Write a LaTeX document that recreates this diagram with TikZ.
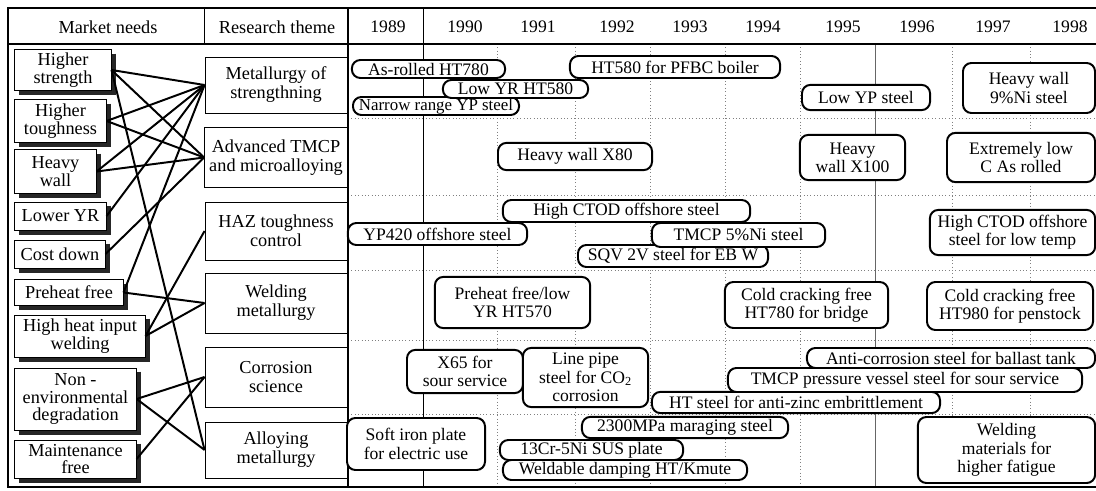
\documentclass[tikz,border=0pt]{standalone}
\usepackage{fontspec}
\setmainfont{Liberation Serif}
\usepackage{tikz}

\begin{document}
\begin{tikzpicture}[x=0.025cm,y=-0.025cm]
\useasboundingbox (0,0) rectangle (1096,491);
%%%%%%%%%%%%%%%%%%%%%%%%%%%%%%%%%%%%%%%%%%%%%%%%%%%%%%%%%%%%%%
%FRAME/BACKGROUND
\tikzstyle{grid}=[dotted,color=black!50,thin]
\tikzstyle{head}=[font=\fontsize{12.5}{13}\selectfont]
%year grid
\draw[grid] (497,44) -- (497,487);
\draw[grid] (575,44) -- (575,487);
\draw[grid] (650,44) -- (650,487);
\draw[grid] (725,44) -- (725,487);
\draw[grid] (800,44) -- (800,487);
\draw[color=black!60] (875,44) -- (875,487);
\draw[grid] (952,44) -- (952,487);
\draw[grid] (1030,44) -- (1030,487);
%theme rows
\draw[grid] (348,118) -- (1096,118);
\draw[grid] (348,195) -- (1096,195);
\draw[grid] (348,270) -- (1096,270);
\draw[grid] (348,340) -- (1096,340);
\draw[grid] (348,414) -- (1096,414);
%table
\draw[line width=0.8pt] (1096,8) -- (8,8) -- (8,487) -- (1096,487);
\draw[line width=0.8pt] (8,44) -- (1096,44);
\draw (204,8) -- (204,44);
\draw[line width=0.8pt] (348,8) -- (348,487);
\draw (423,8) -- (423,487);

%header
\node[head,font=\fontsize{13}{13}\selectfont] (hneeds) at (108,27) {Market needs};
\node[head,font=\fontsize{13}{13}\selectfont] (htheme) at (277,27) {Research theme};
\node[head] (y1989) at (388,27) {1989};
\node[head] (y1990) at (465,27) {1990};
\node[head] (y1991) at (538,27) {1991};
\node[head] (y1992) at (617,27) {1992};
\node[head] (y1993) at (690,27) {1993};
\node[head] (y1994) at (763,27) {1994};
\node[head] (y1995) at (843,27) {1995};
\node[head] (y1996) at (917,27) {1996};
\node[head] (y1997) at (993,27) {1997};
\node[head] (y1998) at (1070,27) {1998};

%%%%%%%%%%%%%%%%%%%%%%%%%%%%%%%%%%%%%%%%%%%%%%%%%%%%%%%%%%%%%%
%boxes
\tikzstyle{need}=[draw,line width=0.7pt,fill=white,align=center,inner sep=1pt,font=\fontsize{13}{12.5}\selectfont]
\tikzstyle{theme}=[draw,line width=0.6pt,fill=white,align=center,minimum width=3.55cm,font=\fontsize{13}{13.5}\selectfont]
\tikzstyle{pill}=[draw,line width=1.4pt,rounded corners=6pt,fill=white,align=center,inner xsep=3.5pt,inner ysep=0.5pt,font=\fontsize{12.5}{13}\selectfont]
\tikzstyle{shadowedge}=[line width=3pt,color=black!85]

%needs
\node[need,minimum width=2.4cm,minimum height=1cm] (strength) at (63,70) {Higher\\strength};
\node[need,minimum width=2.28cm,minimum height=1.05cm] (toughness) at (60.5,121) {Higher\\toughness};
\node[need,minimum width=2.03cm,minimum height=1.08cm] (heavywall) at (55.5,171.5) {Heavy\\wall};
\node[need,minimum width=2.28cm,minimum height=0.7cm] (loweryr) at (60.5,216) {Lower YR};
\node[need,minimum width=2.25cm,minimum height=0.7cm] (costdown) at (60,254) {Cost down};
\node[need,minimum width=2.7cm,minimum height=0.63cm] (preheat) at (69,292.5) {Preheat free};
\node[need,minimum width=3.25cm,minimum height=1.05cm] (heatinput) at (80,336) {High heat input\\welding};
\node[need,minimum width=3.03cm,minimum height=1.55cm] (nonenv) at (75.5,399) {Non -\\environmental\\degradation};
\node[need,minimum width=3.03cm,minimum height=0.95cm] (maintfree) at (75.5,459) {Maintenance\\free};

%shadow edges, right and bottom
\draw[shadowedge] ([shift={(1.9pt,-3pt)}]strength.north east) -- ([shift={(1.9pt,-1.9pt)}]strength.south east) -- ([shift={(3pt,-1.9pt)}]strength.south west);
\draw[shadowedge] ([shift={(1.9pt,-3pt)}]toughness.north east) -- ([shift={(1.9pt,-1.9pt)}]toughness.south east) -- ([shift={(3pt,-1.9pt)}]toughness.south west);
\draw[shadowedge] ([shift={(1.9pt,-3pt)}]heavywall.north east) -- ([shift={(1.9pt,-1.9pt)}]heavywall.south east) -- ([shift={(3pt,-1.9pt)}]heavywall.south west);
\draw[shadowedge] ([shift={(1.9pt,-3pt)}]loweryr.north east) -- ([shift={(1.9pt,-1.9pt)}]loweryr.south east) -- ([shift={(3pt,-1.9pt)}]loweryr.south west);
\draw[shadowedge] ([shift={(1.9pt,-3pt)}]costdown.north east) -- ([shift={(1.9pt,-1.9pt)}]costdown.south east) -- ([shift={(3pt,-1.9pt)}]costdown.south west);
\draw[shadowedge] ([shift={(1.9pt,-3pt)}]preheat.north east) -- ([shift={(1.9pt,-1.9pt)}]preheat.south east) -- ([shift={(3pt,-1.9pt)}]preheat.south west);
\draw[shadowedge] ([shift={(1.9pt,-3pt)}]heatinput.north east) -- ([shift={(1.9pt,-1.9pt)}]heatinput.south east) -- ([shift={(3pt,-1.9pt)}]heatinput.south west);
\draw[shadowedge] ([shift={(1.9pt,-3pt)}]nonenv.north east) -- ([shift={(1.9pt,-1.9pt)}]nonenv.south east) -- ([shift={(3pt,-1.9pt)}]nonenv.south west);
\draw[shadowedge] ([shift={(1.9pt,-3pt)}]maintfree.north east) -- ([shift={(1.9pt,-1.9pt)}]maintfree.south east) -- ([shift={(3pt,-1.9pt)}]maintfree.south west);

%themes
\node[theme,minimum height=1.4cm] (strengthen) at (276,85) {Metallurgy of\\strengthning};
\node[theme,minimum height=1.48cm] (tmcp) at (276,157.5) {Advanced TMCP\\and microalloying};
\node[theme,minimum height=1.45cm] (haz) at (276,231) {HAZ toughness\\control};
\node[theme,minimum height=1.5cm] (welding) at (276,303) {Welding\\metallurgy};
\node[theme,minimum height=1.5cm] (corrosion) at (276,377) {Corrosion\\science};
\node[theme,minimum height=1.4cm] (alloying) at (276,450) {Alloying\\metallurgy};

%%%%%%%%%%%%%%%%%%%%%%%%%%%%%%%%%%%%%%%%%%%%%%%%%%%%%%%%%%%%%%
%products
%strengthening row
\node[pill,minimum width=3.83cm,minimum height=0.45cm] (asrolled) at (428.5,69) {As-rolled HT780};
\node[pill,minimum width=5.25cm,minimum height=0.55cm] (pfbc) at (675,67) {HT580 for PFBC boiler};
\node[pill,minimum width=4.15cm,minimum height=0.45cm,inner xsep=2.5pt,font=\fontsize{12}{12}\selectfont] (narrow) at (436,106) {Narrow range YP steel};
\node[pill,minimum width=3.63cm,minimum height=0.45cm] (lowyr) at (515.5,89) {Low YR HT580};
\node[pill,minimum width=3.2cm,minimum height=0.63cm] (lowyp) at (866,97.5) {Low YP steel};
\node[pill,minimum width=3.3cm,minimum height=1.25cm] (ninepct) at (1029,88) {Heavy wall\\9\%Ni steel};
%tmcp row
\node[pill,minimum width=3.85cm,minimum height=0.68cm] (xeighty) at (575,156.5) {Heavy wall X80};
\node[pill,minimum width=2.63cm,minimum height=1.13cm] (xhundred) at (852.5,157.5) {Heavy\\wall X100};
\node[pill,minimum width=3.7cm,minimum height=1.23cm] (lowc) at (1021,157.5) {Extremely low\\C As rolled};
%haz row
\node[pill,minimum width=6.18cm,minimum height=0.55cm] (ctod) at (626.5,211) {High CTOD offshore steel};
\node[pill,minimum width=4.48cm,minimum height=0.55cm] (yp420) at (437.5,234) {YP420 offshore steel};
\node[pill,minimum width=4.75cm,minimum height=0.55cm] (sqv) at (673,256) {SQV 2V steel for EB W};
\node[pill,minimum width=4.33cm,minimum height=0.6cm] (fiveni) at (738.5,235) {TMCP 5\%Ni steel};
\node[pill,minimum width=4.13cm,minimum height=1.13cm,inner xsep=2pt] (ctodlow) at (1012.5,232.5) {High CTOD offshore\\steel for low temp};
%welding row
\node[pill,minimum width=3.88cm,minimum height=1.28cm] (preheatlow) at (512.5,302.5) {Preheat free/low\\YR HT570};
\node[pill,minimum width=4.08cm,minimum height=1.15cm] (ccbridge) at (806.5,305) {Cold cracking free\\HT780 for bridge};
\node[pill,minimum width=4.15cm,minimum height=1.2cm] (ccpenstock) at (1010,306) {Cold cracking free\\HT980 for penstock};
%corrosion row
\node[pill,minimum width=2.9cm,minimum height=1.08cm] (xsixtyfive) at (465,371.5) {X65 for\\sour service};
\node[pill,minimum width=3.13cm,minimum height=1.48cm] (cotwo) at (585.5,377.5) {Line pipe\\steel for CO\textsubscript{2}\\corrosion};
\node[pill,minimum width=7.2cm,minimum height=0.5cm] (ballast) at (951,358) {Anti-corrosion steel for ballast tank};
\node[pill,minimum width=7.2cm,minimum height=0.53cm] (zinc) at (796,402.5) {HT steel for anti-zinc embrittlement};
\node[pill,minimum width=8.85cm,minimum height=0.6cm] (sourpv) at (905,380) {TMCP pressure vessel steel for sour service};
%alloying row
\node[pill,minimum width=3.45cm,minimum height=1.3cm] (softiron) at (416,444) {Soft iron plate\\for electric use};
\node[pill,minimum width=5.15cm,minimum height=0.53cm] (maraging) at (685,427.5) {2300MPa maraging steel};
\node[pill,minimum width=4.58cm,minimum height=0.5cm] (crni) at (591.5,450) {13Cr-5Ni SUS plate};
\node[pill,minimum width=6.1cm,minimum height=0.5cm] (damping) at (625,470) {Weldable damping HT/Kmute};
\node[pill,minimum width=4.43cm,minimum height=1.65cm] (fatigue) at (1006.5,450) {Welding\\materials for\\higher fatigue};

%%%%%%%%%%%%%%%%%%%%%%%%%%%%%%%%%%%%%%%%%%%%%%%%%%%%%%%%%%%%%%
%LINKS
\tikzstyle{link}=[line width=1.4pt]
%strength
\draw[link] (strength.east) -- (strengthen.west);
\draw[link] (strength.east) -- (tmcp.west);
\draw[link] (strength.east) -- (alloying.west);
%toughness
\draw[link] (toughness.east) -- (strengthen.west);
\draw[link] (toughness.east) -- (tmcp.west);
%heavy wall
\draw[link] (heavywall.east) -- (strengthen.west);
\draw[link] (heavywall.east) -- (tmcp.west);
%YR, cost
\draw[link] (loweryr.east) -- (strengthen.west);
\draw[link] (costdown.east) -- (tmcp.west);
%welding
\draw[link] (preheat.east) -- (strengthen.west);
\draw[link] (preheat.east) -- (welding.west);
\draw[link] (heatinput.east) -- (haz.west);
\draw[link] (heatinput.east) -- (welding.west);
%corrosion
\draw[link] (nonenv.east) -- (corrosion.west);
\draw[link] (nonenv.east) -- (alloying.west);
\draw[link] (maintfree.east) -- (corrosion.west);
\end{tikzpicture}
\end{document}
